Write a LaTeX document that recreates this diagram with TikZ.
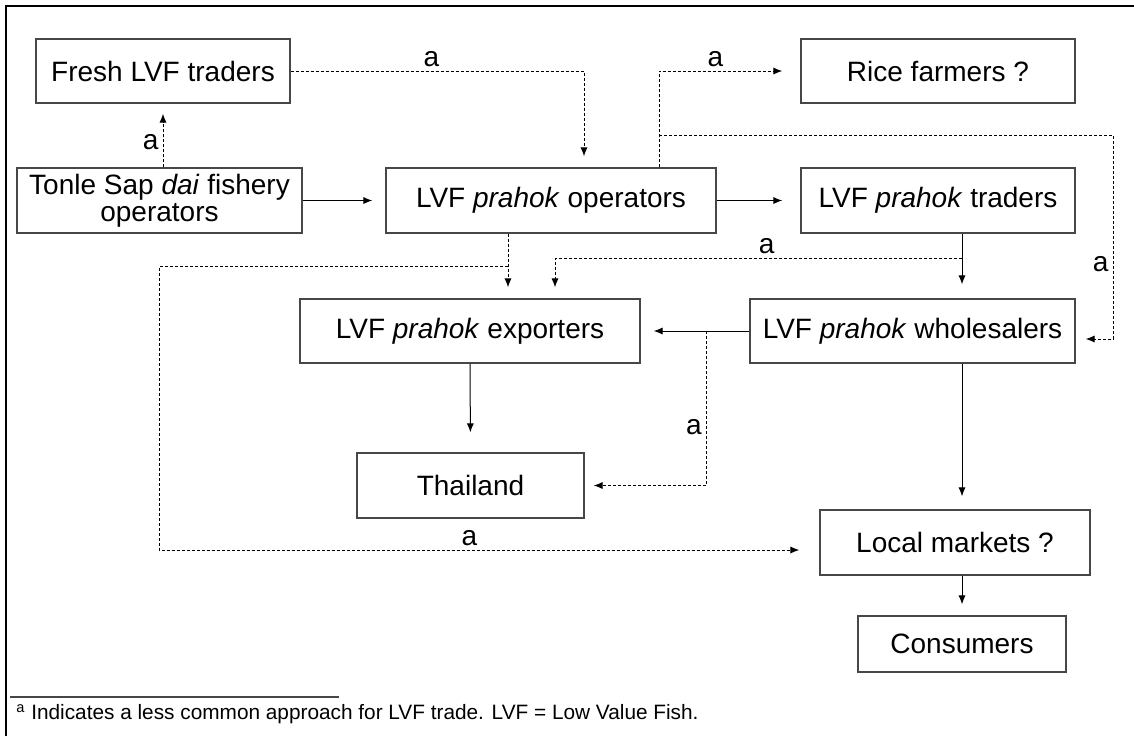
\documentclass[tikz,border=0pt]{standalone}
\usepackage{fontspec}
\setmainfont{Liberation Sans}
\usetikzlibrary{arrows.meta}

\begin{document}
\begin{tikzpicture}[x=0.5pt,y=-0.5pt,
        myBox/.style={draw=myGrey,line width=0.7pt,inner sep=0pt,minimum height=32.5pt,align=center,font=\fontsize{14}{13.5}\selectfont},
        myArrow/.style={draw=black,line width=0.5pt,-{Latex[length=4.5pt,width=3.6pt]}},
        myDash/.style={myArrow,dash pattern=on 1.5pt off 1pt},
        myLabel/.style={font=\fontsize{14}{14}\selectfont,inner sep=2pt}]
            \colorlet{myGrey}{black!72}
            \useasboundingbox (0,0) rectangle (1134,736);
            \draw[line width=1.1pt] (6,736) -- (6,6) -- (1134,6);
            \node[myBox,minimum width=127pt,minimum height=32pt] (freshTr) at (163,71) {Fresh LVF traders};
            \node[myBox,minimum width=142.5pt] (tonleOp) at (159.5,200.5) {Tonle Sap \textit{dai} fishery\\operators};
            \node[myBox,minimum width=165pt] (prahokOp) at (551,200.5) {LVF \textit{prahok} operators};
            \node[myBox,minimum width=137pt,minimum height=32pt] (riceFm) at (938,71) {Rice farmers ?};
            \node[myBox,minimum width=137pt] (prahokTr) at (938,200.5) {LVF \textit{prahok} traders};
            \node[myBox,minimum width=162.5pt,minimum height=32pt] (prahokWs) at (912.5,331) {LVF \textit{prahok} wholesalers};
            \node[myBox,minimum width=170pt,minimum height=32pt] (prahokEx) at (470,331) {LVF \textit{prahok} exporters};
            \node[myBox,minimum width=113.5pt] (thai) at (470.5,485.5) {Thailand};
            \node[myBox,minimum width=135pt] (localMk) at (955,542.5) {Local markets ?};
            \node[myBox,minimum width=104pt,minimum height=28pt] (consumers) at (962,644) {Consumers};

            \draw[myDash,shorten >=5pt] (tonleOp.north -| freshTr.south) -- (freshTr.south) node[myLabel,left,pos=0.4] {a};
            \draw[myDash,shorten >=5.5pt] (freshTr.east) -| ([xshift=16.5pt]prahokOp.north) node[myLabel,above,pos=0.24] {a};
            \draw[myArrow,shorten >=6.5pt] (tonleOp.east) -- (prahokOp.west);
            \draw[myDash,shorten >=9pt] ([xshift=54pt]prahokOp.north) coordinate (opTop) |- (riceFm.west) node[myLabel,above,pos=0.7] {a};
            \draw[myDash,shorten >=5pt] ([yshift=16pt]opTop) -- ++(454,0) |- ([yshift=-4pt]prahokWs.east) node[myLabel,left,pos=0.315] {a};
            \draw[myArrow,shorten >=9pt] (prahokOp.east) -- (prahokTr.west);
            \draw[myArrow,shorten >=7pt] ([xshift=12pt]prahokTr.south) coordinate (trOut) -- (trOut |- prahokWs.north);
            \draw[myDash,shorten >=5.5pt] ([yshift=-12.5pt]trOut) -| ([xshift=42.5pt]prahokEx.north) node[myLabel,above,pos=0.24] {a};
            \draw[myDash,shorten >=5.5pt] ([xshift=-21.5pt]prahokOp.south) coordinate (opOut) -- (opOut |- prahokEx.north);
            \draw[myDash,shorten >=10pt] ([yshift=-16.5pt]opOut) -- ++(-349,0) |- ([yshift=-3.75pt]localMk.west) node[myLabel,above,pos=0.735] {a};
            \draw[myArrow,shorten >=6.5pt] (prahokWs.west) -- (prahokEx.east);
            \draw[myDash,shorten >=4.5pt] ([xshift=-21.5pt]prahokWs.west) |- (thai.east) node[myLabel,left,pos=0.31] {a};
            \draw[myArrow,shorten >=10pt] (prahokEx.south) -- (thai.north);
            \draw[myArrow,shorten >=6.5pt] ([xshift=24.75pt]prahokWs.south) coordinate (wsOut) -- (wsOut |- localMk.north);
            \draw[myArrow,shorten >=5.5pt] (localMk.south -| consumers.north) -- (consumers.north);

            \draw[myGrey,line width=0.6pt] (10,697) coordinate (noteL) -- (339,697) coordinate (noteR);
            \node[anchor=west,inner sep=0pt,font=\fontsize{10.4}{12}\selectfont] (note) at (16,714) {\textsuperscript{a} Indicates a less common approach for LVF trade. LVF = Low Value Fish.};
        \end{tikzpicture}
\end{document}
